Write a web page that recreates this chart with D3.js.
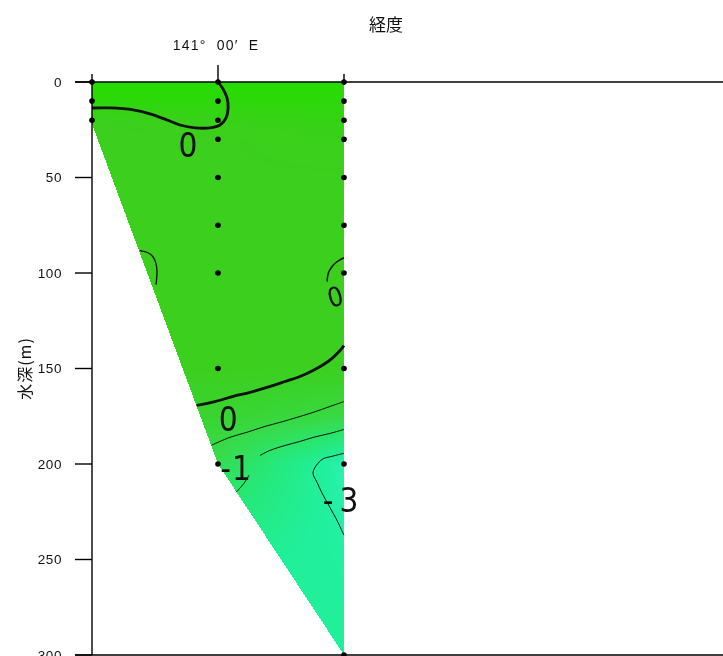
<!DOCTYPE html>
<html>
<head>
<meta charset="utf-8">
<script src="https://cdn.jsdelivr.net/npm/d3@7"></script>
<style>
  html, body { margin: 0; padding: 0; background: #fff; }
  #wrap { position: relative; width: 723px; height: 656px; overflow: hidden; }
  canvas, svg { position: absolute; left: 0; top: 0; }
  text { white-space: pre; }
</style>
</head>
<body>
<div id="wrap"></div>
<script>
// ---------------- data ----------------
// longitude in minutes relative to 141°00'E
const lonTicks = [-5, 0, 5];
const lonMajorLabel = "141°  00′  E";
const depthTicks = [0, 50, 100, 150, 200, 250, 300];

const stationLon = [-5, 0, 5];
const stationBottom = [22, 200, 300];
const sampleDepths = [
  [0, 10, 20],
  [0, 10, 20, 30, 50, 75, 100, 150, 200],
  [0, 10, 20, 30, 50, 75, 100, 150, 200, 300]
];

// gridded field values (columns at stationLon)
const gridDepths = [0, 10, 20, 30, 50, 75, 100, 150, 175, 200, 250, 300];
const gridLeft   = [0.3, 0.2, 0.0, 0.0, 0.0, 0.0, 0.0, 0.0, -0.5, -1.2, -2.6, -2.8];
const gridMid    = [0.3, 0.2, 0.05, 0.0, 0.0, 0.0, 0.0, 0.0, -0.4, -1.1, -2.6, -2.8];
const gridRight  = [0.3, 0.2, 0.1, 0.05, 0.0, 0.0, 0.0, -0.05, -0.8, -3.3, -3.0, -2.8];

const colorValues = [-3.5, -3, -2, -1, 0, 0.3];
const colorRange  = ["#3af2c0", "#20f0a0", "#26e878", "#36dc4c", "#3ccf1e", "#26dc00"];

// contour lines [lon, depth]
const contour0Top = [[-5,13.6],[-4.29,13.6],[-3.37,14.6],[-2.70,16.7],[-2.02,19.9],[-1.51,22.5],[-0.91,24.0],[-0.32,24.0],[0.08,22.5],[0.32,18.8],[0.40,13.6],[0.36,8.4],[0.20,3.7],[0,0]];
const contourLeftBump = [[-3.10,88.3],[-2.78,89.4],[-2.58,91.5],[-2.46,95.1],[-2.42,99.3],[-2.46,106.1]];
const contourRightLoop = [[5,92.0],[4.72,94.1],[4.52,96.7],[4.37,100.4],[4.33,104.5]];
const contour0Deep = [[-0.85,169.3],[-0.12,167.3],[0.60,164.6],[1.27,162.5],[1.94,159.9],[2.66,156.8],[3.25,154.2],[3.77,151.0],[4.25,147.4],[4.56,144.3],[4.84,140.6],[5.0,138.0]];
const contourHalf = [[-0.26,190.2],[0.48,186.0],[1.15,183.4],[1.87,180.3],[2.46,178.2],[3.13,175.6],[3.77,173.0],[4.44,169.9],[5.0,167.3]];
const contourM1a = [[5,181.9],[4.44,184.0],[3.77,186.1],[3.25,188.2],[2.66,190.3],[2.06,192.9],[1.67,195.5]];
const contourM1b = [[1.23,205.9],[1.03,210.1],[0.72,214.8]];
const contourM3 = [[5,194.4],[4.52,196.0],[4.13,197.6],[3.77,204.4],[3.93,209.6],[4.13,215.3],[4.44,222.7],[4.72,229.5],[5,237.3]];

const contourLabels = [
  {text: "0",  lon: -1.19, depth: 33.5, size: 33, rot: 0, ls: 0},
  {text: "0",  lon: 4.65,  depth: 112.5, size: 27, rot: -15, ls: 0},
  {text: "0",  lon: 0.40,  depth: 176.5, size: 33, rot: 0, ls: 0},
  {text: "-1", lon: 0.72,  depth: 202.5, size: 33, rot: 0, ls: 1},
  {text: "-3", lon: 4.98,  depth: 219.0, size: 33, rot: 0, ls: 6}
];

// ---------------- layout ----------------
const W = 723, H = 656;
const x = d3.scaleLinear().domain([-5, 20]).range([92, 722]);
const y = d3.scaleLinear().domain([0, 300]).range([82, 655]);

const wrap = d3.select("#wrap");
const canvas = wrap.append("canvas").attr("width", W).attr("height", H).node();
const svg = wrap.append("svg").attr("width", W).attr("height", H);

// field
const colLeft = d3.scaleLinear().domain(gridDepths).range(gridLeft);
const colMid = d3.scaleLinear().domain(gridDepths).range(gridMid);
const colRight = d3.scaleLinear().domain(gridDepths).range(gridRight);
const color = d3.scaleLinear().domain(colorValues).range(colorRange).clamp(true);

const poly = [
  [x(stationLon[0]), y(0)], [x(stationLon[2]), y(0)],
  [x(stationLon[2]), y(stationBottom[2])], [x(stationLon[1]), y(stationBottom[1])],
  [x(stationLon[0]), y(stationBottom[0])]
];

const ctx = canvas.getContext("2d");
const img = ctx.createImageData(W, H);
const x0 = Math.floor(x(-5)), x1 = Math.ceil(x(5)), y0 = Math.floor(y(0)), y1 = Math.ceil(y(300));
for (let py = y0; py <= y1; py++) {
  for (let px = x0; px <= x1; px++) {
    const cx = px + 0.5, cy = py + 0.5;
    if (!d3.polygonContains(poly, [cx, cy])) continue;
    const lon = x.invert(cx), dep = y.invert(cy);
    let v;
    if (lon <= 0) { const t = (lon + 5) / 5; v = colLeft(dep) * (1 - t) + colMid(dep) * t; }
    else { const t = lon / 5; v = colMid(dep) * (1 - t) + colRight(dep) * t; }
    const c = d3.rgb(color(v));
    const i = (py * W + px) * 4;
    img.data[i] = c.r; img.data[i+1] = c.g; img.data[i+2] = c.b; img.data[i+3] = 255;
  }
}
ctx.putImageData(img, 0, 0);

// contour lines
const line = d3.line().x(d => x(d[0])).y(d => y(d[1])).curve(d3.curveCatmullRom.alpha(0.5));
const g = svg.append("g").attr("fill", "none").attr("stroke", "#111");
[[contour0Top, 2.8], [contour0Deep, 2.8], [contourLeftBump, 1.3], [contourRightLoop, 1.5],
 [contourHalf, 1.0], [contourM1a, 1.0], [contourM1b, 1.0], [contourM3, 1.0]].forEach(([d, w]) => {
  g.append("path").attr("d", line(d)).attr("stroke-width", w);
});

// contour labels
svg.append("g").selectAll("text").data(contourLabels).join("text")
  .attr("transform", d => `translate(${x(d.lon)},${y(d.depth)}) rotate(${d.rot})`)
  .attr("text-anchor", "middle")
  .attr("dominant-baseline", "central")
  .attr("font-family", "'Liberation Sans Narrow', 'DejaVu Sans Condensed', Arial, sans-serif")
  .attr("font-size", d => d.size)
  .attr("letter-spacing", d => d.ls)
  .attr("fill", "#111")
  .text(d => d.text);

// axes
const axisG = svg.append("g").attr("stroke", "#000").attr("stroke-width", 1.4);
axisG.append("line").attr("x1", 75).attr("x2", W).attr("y1", y(0)).attr("y2", y(0));
axisG.append("line").attr("x1", 75).attr("x2", W).attr("y1", y(300)).attr("y2", y(300));
axisG.append("line").attr("x1", x(-5)).attr("x2", x(-5)).attr("y1", y(0)).attr("y2", y(300));
// left ticks
axisG.selectAll(".yt").data(depthTicks).join("line")
  .attr("x1", 75).attr("x2", x(-5)).attr("y1", d => y(d)).attr("y2", d => y(d));
// top ticks
axisG.selectAll(".xt").data(lonTicks).join("line")
  .attr("x1", d => x(d)).attr("x2", d => x(d))
  .attr("y1", d => d === 0 ? y(0) - 17 : y(0) - 8).attr("y2", d => d === 0 ? y(0) : y(0) + 3);

svg.append("g").selectAll("text").data(depthTicks).join("text")
  .attr("x", 62).attr("y", d => y(d)).attr("dy", "0.36em")
  .attr("text-anchor", "end")
  .attr("font-family", "'Liberation Sans', Arial, sans-serif")
  .attr("font-size", 13.5).attr("letter-spacing", 0.6)
  .attr("fill", "#111")
  .text(d => d);

svg.append("text").attr("x", x(0) - 2).attr("y", 50)
  .attr("text-anchor", "middle")
  .attr("font-family", "'Liberation Sans', Arial, sans-serif")
  .attr("font-size", 14).attr("letter-spacing", 1.2).attr("fill", "#111")
  .text(lonMajorLabel);

svg.append("text").attr("x", 386).attr("y", 31)
  .attr("text-anchor", "middle")
  .attr("font-family", "'Noto Sans CJK JP', sans-serif")
  .attr("font-size", 17).attr("fill", "#111")
  .text("経度");

svg.append("text").attr("transform", `translate(31,${y(150)}) rotate(-90)`)
  .attr("text-anchor", "middle")
  .attr("font-family", "'Noto Sans CJK JP', sans-serif")
  .attr("font-size", 16).attr("letter-spacing", 1).attr("fill", "#111")
  .text("水深(m)");

// station dots
const dots = [];
stationLon.forEach((lon, i) => sampleDepths[i].forEach(dp => dots.push([lon, dp])));
svg.append("g").selectAll("circle").data(dots).join("circle")
  .attr("cx", d => x(d[0])).attr("cy", d => y(d[1])).attr("r", 2.8).attr("fill", "#000");
</script>
</body>
</html>
